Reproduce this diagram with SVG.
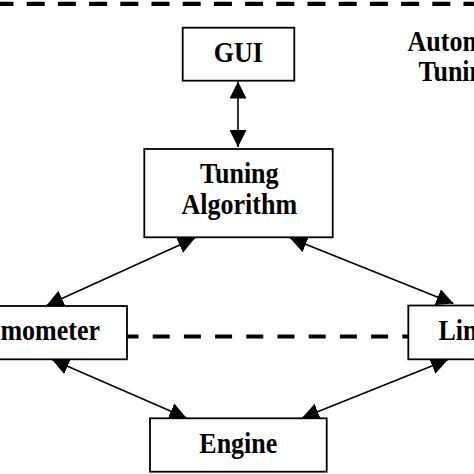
<svg xmlns="http://www.w3.org/2000/svg" width="474" height="474" viewBox="0 0 474 474">
<defs>
<marker id="ah" viewBox="0 0 16 16" refX="16" refY="8" markerWidth="17" markerHeight="17" markerUnits="userSpaceOnUse" orient="auto-start-reverse">
<path d="M0,0 L16,8 L0,16 Z" fill="#000"/>
</marker>
</defs>
<style>
.box{fill:#fff;stroke:#000;stroke-width:1.8}
.lbl{font-family:"Liberation Serif","Times New Roman",serif;font-weight:bold;font-size:26px;fill:#000}
.c{text-anchor:middle}
.conn{stroke:#000;stroke-width:1.6;fill:none;marker-start:url(#ah);marker-end:url(#ah)}
.dash{stroke:#000;stroke-width:4.2;fill:none}
</style>
<rect width="474" height="474" fill="#fff"/>
<g id="boundary">
<line class="dash" x1="0" y1="3.8" x2="474" y2="3.8" stroke-dasharray="18 13.2" stroke-dashoffset="4.5"/>
<line class="dash" x1="127" y1="336.5" x2="408" y2="336.5" stroke-dasharray="17 14.2" stroke-dashoffset="5.5"/>
</g>
<g id="label-automatic">
<text class="lbl" transform="translate(407.5,50.5) scale(1,1.1)">Automatic</text>
<text class="lbl" transform="translate(418.5,81) scale(1,1.1)">Tuning</text>
</g>
<g id="connectors">
<line class="conn" x1="238" y1="81.5" x2="238" y2="147"/>
<line class="conn" x1="195" y1="238" x2="46.5" y2="305.5"/>
<line class="conn" x1="290" y1="238" x2="453.5" y2="303.5"/>
<line class="conn" x1="52" y1="359.5" x2="186.5" y2="418"/>
<line class="conn" x1="448" y1="359.5" x2="302" y2="418"/>
</g>
<g id="gui">
<rect class="box" x="182.7" y="27.7" width="111.6" height="53"/>
<text class="lbl c" transform="translate(238.3,62.3) scale(1,1.1)">GUI</text>
</g>
<g id="tuning-algorithm">
<rect class="box" x="144.3" y="149" width="188.4" height="88.3"/>
<text class="lbl c" transform="translate(239.3,183.3) scale(1,1.1)">Tuning</text>
<text class="lbl c" transform="translate(239.3,214) scale(1,1.1)">Algorithm</text>
</g>
<g id="dynamometer">
<rect class="box" x="-10" y="306" width="137" height="53.3"/>
<text class="lbl" text-anchor="end" transform="translate(100,340) scale(1,1.1)">Dynamometer</text>
</g>
<g id="lin">
<rect class="box" x="408.3" y="305.5" width="80" height="53.8"/>
<text class="lbl" transform="translate(438.5,340) scale(1,1.1)">Lin</text>
</g>
<g id="engine">
<rect class="box" x="150" y="418.3" width="176.7" height="53.4"/>
<text class="lbl c" transform="translate(238.3,452.7) scale(1,1.1)">Engine</text>
</g>
</svg>
